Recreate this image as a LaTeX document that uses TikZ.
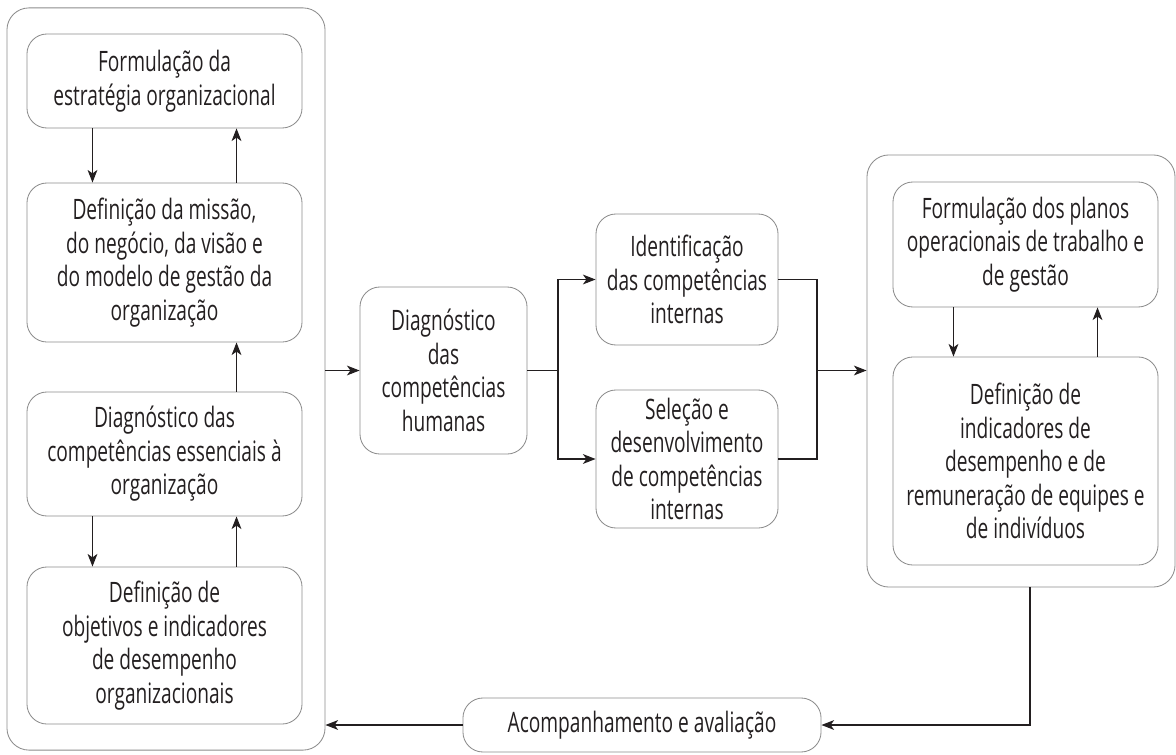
\documentclass[tikz,border=0pt]{standalone}
\usepackage{fontspec}
\setmainfont{Open Sans}[FakeStretch=0.68]
\usetikzlibrary{calc,arrows.meta}
\definecolor{borda}{HTML}{8C8C8C}
\definecolor{tinta}{HTML}{231F20}
\begin{document}
\begin{tikzpicture}[x=0.025cm,y=-0.025cm]
\tikzstyle{seta}=[-{Stealth[length=9pt,width=7pt,inset=2.5pt]},draw=tinta,line width=0.75pt]
\tikzstyle{linha}=[draw=tinta,line width=0.75pt]
\tikzset{etapa/.style={draw=borda,line width=0.6pt,rounded corners=0.5cm,align=center,text=tinta,
  font=\fontsize{20}{23.8}\selectfont,minimum width=#1},
etapa/.default={6.875cm},
bloco/.style={draw=borda,line width=0.6pt,rounded corners=0.55cm}}
\useasboundingbox (0,0) rectangle (1176,755);

% bloco da esquerda
\node[bloco,minimum width=7.95cm,minimum height=18.55cm] (esq) at (166,379) {};
\node[etapa,minimum height=2.35cm] (e1) at (164.5,81) {Formulação da\\estratégia organizacional};
\node[etapa,minimum height=3.975cm] (e2) at (164.5,262.5) {Definição da missão,\\do negócio, da visão e\\do modelo de gestão da\\organização};
\node[etapa,minimum height=3.1cm] (e3) at (164.5,454) {Diagnóstico das\\competências essenciais à\\organização};
\node[etapa,minimum height=3.925cm] (e4) at (164.5,645.5) {Definição de\\objetivos e indicadores\\de desempenho\\organizacionais};

% centro
\node[etapa=4.175cm,minimum height=4.175cm] (diag) at (443.5,370.5) {Diagnóstico\\das\\competências\\humanas};
\node[etapa=4.55cm,minimum height=3.275cm] (ident) at (687,279.5) {Identificação\\das competências\\internas};
\node[etapa=4.55cm,minimum height=3.45cm] (sel) at (687,459) {Seleção e\\desenvolvimento\\de competências\\internas};
\coordinate (div) at (558,370.5);
\coordinate (jun) at (817,370.5);

% bloco da direita
\node[bloco,minimum width=7.7cm,minimum height=10.8cm] (dir) at (1021,371) {};
\node[etapa=6.625cm,minimum height=3.125cm] (d1) at (1025.5,244.5) {Formulação dos planos\\operacionais de trabalho e\\de gestão};
\node[etapa=6.625cm,minimum height=5.2cm] (d2) at (1025.5,461) {Definição de\\indicadores de\\desempenho e de\\remuneração de equipes e\\de indivíduos};

% embaixo
\node[etapa=8.95cm,minimum height=1.35cm] (acomp) at (642,725) {Acompanhamento e avaliação};

\draw[seta] ([xshift=-1.8cm]e1.south) -- ([xshift=-1.8cm]e2.north);
\draw[seta] ([xshift=1.8cm]e2.north) -- ([xshift=1.8cm]e1.south);
\draw[seta] ([xshift=1.8cm]e3.north) -- ([xshift=1.8cm]e2.south);
\draw[seta] ([xshift=-1.8cm]e3.south) -- ([xshift=-1.8cm]e4.north);
\draw[seta] ([xshift=1.8cm]e4.north) -- ([xshift=1.8cm]e3.south);

\draw[seta] (esq.east |- diag.west) -- (diag.west);
\draw[linha] (diag.east) -- (div);
\draw[seta] (div) |- (ident.west);
\draw[seta] (div) |- (sel.west);
\draw[linha] (ident.east) -| (jun) |- (sel.east);
\draw[seta] (jun) -- (dir.west |- jun);

\draw[seta] ([xshift=-1.8cm]d1.south) -- ([xshift=-1.8cm]d2.north);
\draw[seta] ([xshift=1.8cm]d2.north) -- ([xshift=1.8cm]d1.south);

\draw[seta] ([xshift=0.225cm]dir.south) |- (acomp.east);
\draw[seta] (acomp.west) -- (acomp.west -| esq.east);
\end{tikzpicture}
\end{document}
